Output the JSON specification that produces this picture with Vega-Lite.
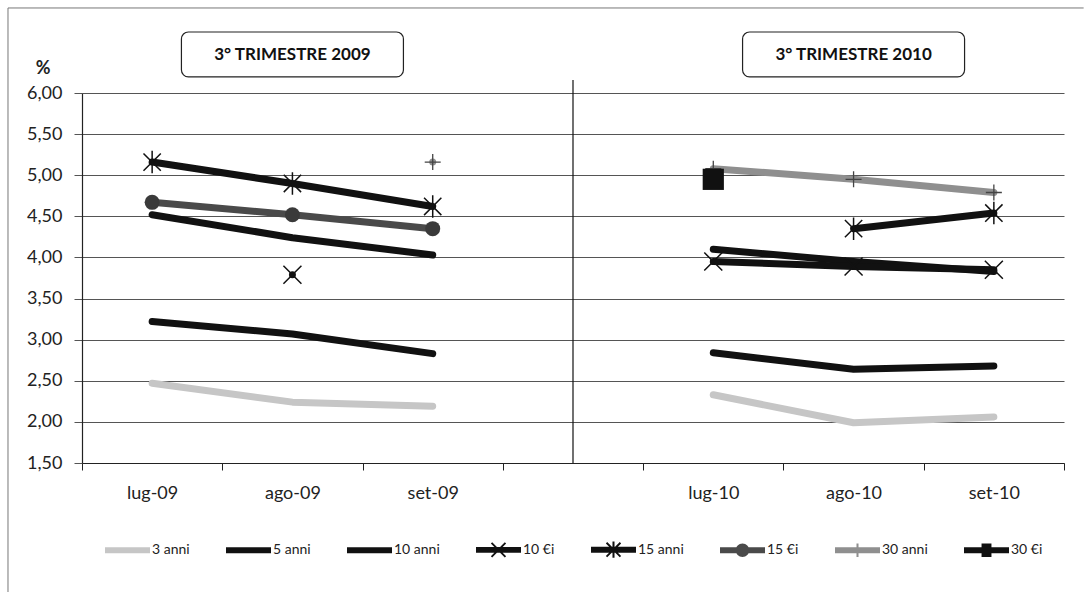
{
  "$schema": "https://vega.github.io/schema/vega-lite/v6.json",
  "width": 982,
  "height": 370,
  "autosize": "none",
  "padding": {"left": 82, "top": 93, "right": 21, "bottom": 129},
  "background": "white",
  "config": {
    "locale": {"number": {"decimal": ",", "thousands": ".", "grouping": [3], "currency": ["€", ""]}},
    "view": {"stroke": null},
    "font": "Lato"
  },
  "datasets": {
    "rates": [
      {"series": "3 anni", "period": "2009", "month": "lug-09", "value": 2.47},
      {"series": "3 anni", "period": "2009", "month": "ago-09", "value": 2.24},
      {"series": "3 anni", "period": "2009", "month": "set-09", "value": 2.19},
      {"series": "3 anni", "period": "2010", "month": "lug-10", "value": 2.33},
      {"series": "3 anni", "period": "2010", "month": "ago-10", "value": 1.99},
      {"series": "3 anni", "period": "2010", "month": "set-10", "value": 2.06},
      {"series": "5 anni", "period": "2009", "month": "lug-09", "value": 3.22},
      {"series": "5 anni", "period": "2009", "month": "ago-09", "value": 3.07},
      {"series": "5 anni", "period": "2009", "month": "set-09", "value": 2.83},
      {"series": "5 anni", "period": "2010", "month": "lug-10", "value": 2.84},
      {"series": "5 anni", "period": "2010", "month": "ago-10", "value": 2.64},
      {"series": "5 anni", "period": "2010", "month": "set-10", "value": 2.68},
      {"series": "10 anni", "period": "2009", "month": "lug-09", "value": 4.52},
      {"series": "10 anni", "period": "2009", "month": "ago-09", "value": 4.24},
      {"series": "10 anni", "period": "2009", "month": "set-09", "value": 4.03},
      {"series": "10 anni", "period": "2010", "month": "lug-10", "value": 4.10},
      {"series": "10 anni", "period": "2010", "month": "ago-10", "value": 3.95},
      {"series": "10 anni", "period": "2010", "month": "set-10", "value": 3.83},
      {"series": "10 €i", "period": "2009", "month": "ago-09", "value": 3.79},
      {"series": "10 €i", "period": "2010", "month": "lug-10", "value": 3.95},
      {"series": "10 €i", "period": "2010", "month": "ago-10", "value": 3.89},
      {"series": "10 €i", "period": "2010", "month": "set-10", "value": 3.85},
      {"series": "15 anni", "period": "2009", "month": "lug-09", "value": 5.16},
      {"series": "15 anni", "period": "2009", "month": "ago-09", "value": 4.90},
      {"series": "15 anni", "period": "2009", "month": "set-09", "value": 4.62},
      {"series": "15 anni", "period": "2010", "month": "ago-10", "value": 4.35},
      {"series": "15 anni", "period": "2010", "month": "set-10", "value": 4.54},
      {"series": "15 €i", "period": "2009", "month": "lug-09", "value": 4.67},
      {"series": "15 €i", "period": "2009", "month": "ago-09", "value": 4.52},
      {"series": "15 €i", "period": "2009", "month": "set-09", "value": 4.35},
      {"series": "30 anni", "period": "2009", "month": "set-09", "value": 5.16},
      {"series": "30 anni", "period": "2010", "month": "lug-10", "value": 5.08},
      {"series": "30 anni", "period": "2010", "month": "ago-10", "value": 4.95},
      {"series": "30 anni", "period": "2010", "month": "set-10", "value": 4.79},
      {"series": "30 €i", "period": "2010", "month": "lug-10", "value": 4.95}
    ],
    "boxes": [
      {"month": "ago-09", "label": "3° TRIMESTRE  2009", "lo": 6.195, "hi": 6.742, "mid": 6.462},
      {"month": "ago-10", "label": "3° TRIMESTRE  2010", "lo": 6.195, "hi": 6.742, "mid": 6.462}
    ],
    "sep": [
      {"month": "gap", "lo": 1.5, "hi": 6.158}
    ],
    "frame": [
      {"m1": "lug-09", "m2": "set-10", "lo": -0.1, "hi": 7.034}
    ]
  },
  "layer": [
    {
      "data": {"name": "rates"},
      "transform": [{"filter": "datum.value > 100"}],
      "mark": {"type": "point", "filled": true, "opacity": 1, "strokeWidth": 0},
      "encoding": {
        "x": {
          "field": "month",
          "type": "ordinal",
          "scale": {"type": "band", "domain": ["lug-09", "ago-09", "set-09", "gap", "lug-10", "ago-10", "set-10"], "paddingInner": 0, "paddingOuter": 0},
          "axis": {
            "title": null,
            "tickBand": "extent",
            "labelExpr": "datum.label == 'gap' ? '' : datum.label",
            "labelAngle": 0,
            "labelAlign": "center",
            "labelFont": "Lato",
            "labelFontSize": 18,
            "labelColor": "#222222",
            "labelPadding": 14,
            "labelBaseline": "top",
            "tickSize": 7,
            "tickColor": "#222222",
            "domainColor": "#222222",
            "domainWidth": 1.2,
            "grid": false
          }
        },
        "y": {
          "field": "value",
          "type": "quantitative",
          "scale": {"domain": [1.5, 6], "nice": false, "zero": false},
          "axis": {
            "title": "%",
            "titleAngle": 0,
            "titleX": -39.5,
            "titleY": -25,
            "titleAlign": "center",
            "titleBaseline": "middle",
            "titleFont": "Lato",
            "titleFontSize": 18,
            "titleFontWeight": "bold",
            "titleColor": "#222222",
            "values": [1.5, 2, 2.5, 3, 3.5, 4, 4.5, 5, 5.5, 6],
            "format": ".2f",
            "labelFont": "Lato",
            "labelFontSize": 18,
            "labelColor": "#222222",
            "labelPadding": 12,
            "tickSize": 8,
            "tickColor": "#555555",
            "grid": true,
            "gridColor": "#555555",
            "gridWidth": 1,
            "domainColor": "#222222",
            "domainWidth": 1.2
          }
        },
        "color": {
          "field": "series",
          "type": "nominal",
          "scale": {
            "domain": ["3 anni", "5 anni", "10 anni", "10 €i", "15 anni", "15 €i", "30 anni", "30 €i"],
            "range": ["#c6c6c6", "#111111", "#111111", "#111111", "#111111", "#4a4a4a", "#8f8f8f", "#111111"]
          },
          "legend": {"orient": "none", "legendX": 23, "legendY": 434, "direction": "horizontal", "columns": 8, "title": null, "symbolSize": 2025, "labelOffset": 2, "columnPadding": 36, "padding": 0, "labelFont": "Lato", "labelFontSize": 14, "labelColor": "#222222", "symbolStrokeWidth": 0}
        },
        "shape": {
          "field": "series",
          "type": "nominal",
          "scale": {
            "domain": ["3 anni", "5 anni", "10 anni", "10 €i", "15 anni", "15 €i", "30 anni", "30 €i"],
            "range": [
              "M-1,-0.13H1V0.13H-1Z",
              "M-1,-0.13H1V0.13H-1Z",
              "M-1,-0.13H1V0.13H-1Z",
              "M-1,-0.13H1V0.13H-1Z M-0.28,-0.34L0.34,0.28L0.28,0.34L-0.34,-0.28Z M0.34,-0.28L-0.28,0.34L-0.34,0.28L0.28,-0.34Z",
              "M-1,-0.13H1V0.13H-1Z M-0.28,-0.34L0.34,0.28L0.28,0.34L-0.34,-0.28Z M0.34,-0.28L-0.28,0.34L-0.34,0.28L0.28,-0.34Z M-0.045,-0.36H0.045V0.36H-0.045Z",
              "M-1,-0.13H1V0.13H-1Z M-0.3,0A0.3,0.3,0,1,1,0.3,0A0.3,0.3,0,1,1,-0.3,0Z",
              "M-1,-0.13H1V0.13H-1Z M-0.045,-0.3H0.045V0.3H-0.045Z",
              "M-1,-0.13H1V0.13H-1Z M-0.22,-0.3H0.22V0.3H-0.22Z"
            ]
          },
          "legend": {"orient": "none", "legendX": 23, "legendY": 434, "direction": "horizontal", "columns": 8, "title": null, "symbolSize": 2025, "labelOffset": 2, "columnPadding": 36, "padding": 0, "labelFont": "Lato", "labelFontSize": 14, "labelColor": "#222222", "symbolStrokeWidth": 0}
        }
      }
    },
    {
      "data": {"name": "frame"},
      "mark": {"type": "rule", "color": "#777777", "strokeWidth": 1},
      "encoding": {
        "x": {"field": "m1", "type": "ordinal", "bandPosition": -0.5275},
        "y": {"field": "lo", "type": "quantitative"},
        "y2": {"field": "hi"}
      }
    },
    {
      "data": {"name": "frame"},
      "mark": {"type": "rule", "color": "#777777", "strokeWidth": 1},
      "encoding": {
        "x": {"field": "m1", "type": "ordinal", "bandPosition": -0.5275},
        "x2": {"field": "m2", "bandPosition": 1.14},
        "y": {"field": "hi", "type": "quantitative"}
      }
    },
    {
      "data": {"name": "sep"},
      "mark": {"type": "rule", "color": "#111111", "strokeWidth": 1.2},
      "encoding": {
        "x": {"field": "month", "type": "ordinal"},
        "y": {"field": "lo", "type": "quantitative"},
        "y2": {"field": "hi"}
      }
    },
    {
      "data": {"name": "boxes"},
      "mark": {"type": "bar", "width": 222, "cornerRadius": 7, "fill": "white", "stroke": "#222222", "strokeWidth": 1.2},
      "encoding": {
        "x": {"field": "month", "type": "ordinal"},
        "y": {"field": "lo", "type": "quantitative"},
        "y2": {"field": "hi"}
      }
    },
    {
      "data": {"name": "boxes"},
      "mark": {"type": "text", "font": "Lato", "fontWeight": "bold", "fontSize": 17, "color": "#111111", "align": "center", "baseline": "middle"},
      "encoding": {
        "x": {"field": "month", "type": "ordinal"},
        "y": {"field": "mid", "type": "quantitative"},
        "text": {"field": "label"}
      }
    },
    {
      "data": {"name": "rates"},
      "mark": {"type": "line", "strokeWidth": 7, "strokeCap": "round", "strokeJoin": "round"},
      "encoding": {
        "x": {"field": "month", "type": "ordinal"},
        "y": {"field": "value", "type": "quantitative"},
        "color": {"field": "series", "type": "nominal"},
        "detail": {"field": "period"}
      }
    },
    {
      "data": {"name": "rates"},
      "transform": [{"filter": "datum.series == '10 €i'"}],
      "mark": {"type": "point", "shape": "M-1,-1L1,1M1,-1L-1,1", "size": 324, "filled": false, "color": "#111111", "strokeWidth": 1.5, "opacity": 1},
      "encoding": {"x": {"field": "month", "type": "ordinal"}, "y": {"field": "value", "type": "quantitative"}}
    },
    {
      "data": {"name": "rates"},
      "transform": [{"filter": "datum.series == '15 anni'"}],
      "mark": {"type": "point", "shape": "M-1,-1L1,1M1,-1L-1,1M0,-1.3L0,1.3", "size": 300, "filled": false, "color": "#111111", "strokeWidth": 1.5, "opacity": 1},
      "encoding": {"x": {"field": "month", "type": "ordinal"}, "y": {"field": "value", "type": "quantitative"}}
    },
    {
      "data": {"name": "rates"},
      "transform": [{"filter": "datum.series == '15 €i'"}],
      "mark": {"type": "point", "shape": "circle", "size": 225, "filled": true, "color": "#3a3a3a", "opacity": 1},
      "encoding": {"x": {"field": "month", "type": "ordinal"}, "y": {"field": "value", "type": "quantitative"}}
    },
    {
      "data": {"name": "rates"},
      "transform": [{"filter": "datum.series == '30 anni'"}],
      "mark": {"type": "point", "shape": "M-1,0L1,0M0,-1L0,1", "size": 256, "filled": false, "color": "#444444", "strokeWidth": 1.3, "opacity": 1},
      "encoding": {"x": {"field": "month", "type": "ordinal"}, "y": {"field": "value", "type": "quantitative"}}
    },
    {
      "data": {"name": "rates"},
      "transform": [{"filter": "datum.series == '30 €i'"}],
      "mark": {"type": "point", "shape": "square", "size": 450, "filled": true, "color": "#111111", "opacity": 1},
      "encoding": {"x": {"field": "month", "type": "ordinal"}, "y": {"field": "value", "type": "quantitative"}}
    }
  ]
}
